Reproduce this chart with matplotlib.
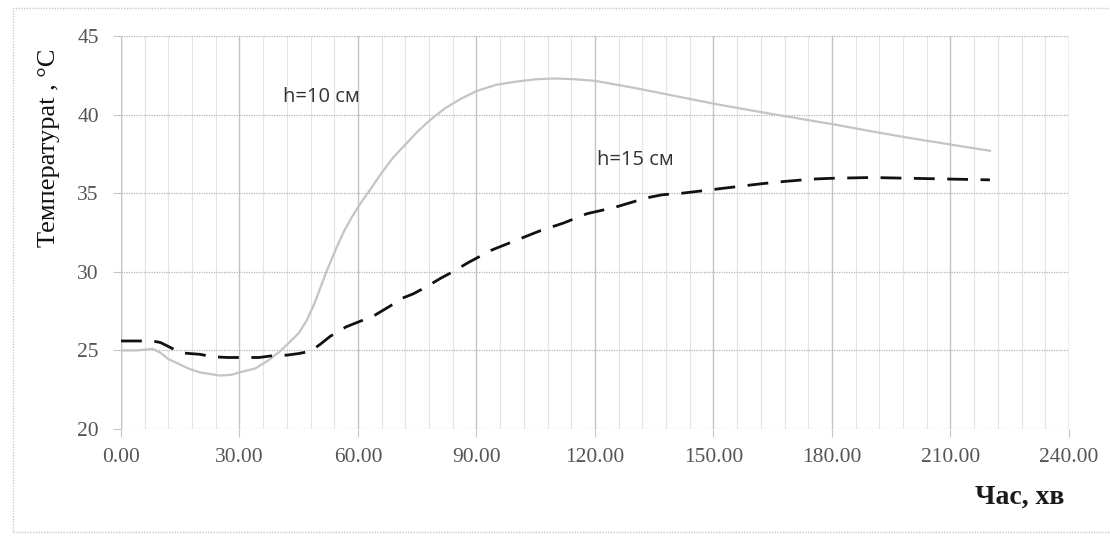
import matplotlib.pyplot as plt
from matplotlib.patches import Rectangle
from matplotlib.ticker import MultipleLocator

# h = 10 cm (grey solid)
t10 = [0, 4, 8, 10, 12, 15, 17, 20, 25, 28, 30, 34, 37.5, 40.5, 43, 45, 47, 49, 52,
       54.5, 56.5, 58.5, 60.5, 63, 66, 69, 72, 75, 78, 82, 86, 90, 95, 100, 105,
       110, 115, 120, 130, 140, 150, 160, 167, 180, 192, 200, 210, 220]
T10 = [25.0, 25.0, 25.1, 24.85, 24.45, 24.1, 23.85, 23.6, 23.4, 23.45, 23.6, 23.85,
       24.4, 25.0, 25.6, 26.1, 26.9, 28.0, 30.0, 31.5, 32.6, 33.5, 34.3, 35.2, 36.3, 37.3,
       38.1, 38.9, 39.6, 40.4, 41.0, 41.5, 41.9, 42.1, 42.25, 42.3, 42.25, 42.15,
       41.7, 41.2, 40.7, 40.25, 39.95, 39.4, 38.85, 38.5, 38.1, 37.7]

# h = 15 cm (black dashed)
t15 = [0, 4, 8, 10, 12.4, 15, 20, 23, 27, 30, 35, 38, 42, 45, 48, 50.5, 53, 57, 61,
       64, 68, 71, 74, 77, 81, 84, 88, 91, 94, 97, 101, 106, 112, 118, 125, 129, 133,
       137, 142, 147, 152, 157, 162, 168, 175, 180, 190, 200, 210, 220]
T15 = [25.6, 25.6, 25.6, 25.5, 25.2, 24.85, 24.75, 24.6, 24.55, 24.55, 24.55, 24.65,
       24.7, 24.8, 24.95, 25.4, 25.9, 26.5, 26.9, 27.2, 27.8, 28.3, 28.6, 29.0, 29.6,
       30.0, 30.6, 31.0, 31.4, 31.7, 32.1, 32.6, 33.1, 33.7, 34.1, 34.4, 34.7, 34.9,
       35.0, 35.15, 35.3, 35.45, 35.6, 35.75, 35.9, 35.95, 36.0, 35.95, 35.9, 35.85]

xticks = [0, 30, 60, 90, 120, 150, 180, 210, 240]
yticks = [20, 25, 30, 35, 40, 45]

fig = plt.figure(figsize=(11.1, 5.38), dpi=100)
ax = fig.add_axes([0.109, 0.2026, 0.854, 0.7304])

# outer chart frame
fig.patches.append(Rectangle((0.012, 0.011), 1.2, 0.974, transform=fig.transFigure,
                             fill=False, ec='#c8c8c8', lw=1.0, ls=(0, (1, 1))))

ax.plot(t10, T10, color='#c4c4c4', lw=1.6, zorder=3)
ax.plot(t15, T15, color='#111111', lw=2.0, dashes=(7.5, 4.5), zorder=4)

ax.set_xlim(0, 240)
ax.set_ylim(20, 45)
ax.set_xticks(xticks)
ax.set_xticklabels(['%.2f' % v for v in xticks])
ax.set_yticks(yticks)
ax.xaxis.set_minor_locator(MultipleLocator(6))

ax.grid(True, axis='y', which='major', color='#b4b4b4', lw=0.9, ls=(0, (1, 1)))
ax.grid(True, axis='x', which='major', color='#c4c4c4', lw=1.0)
ax.grid(True, axis='x', which='minor', color='#e4e4e4', lw=0.8)
for s in ['top', 'right', 'bottom', 'left']:
    ax.spines[s].set_visible(False)
ax.axvline(0, color='#c4c4c4', lw=1.0, zorder=1)
ax.axvline(240, color='#c4c4c4', lw=1.0, ls=(0, (1, 1)), zorder=1)

ax.tick_params(axis='both', which='major', length=6, color='#c4c4c4', labelcolor='#555555',
               labelsize=15.5)
ax.tick_params(axis='x', which='minor', length=0)
ax.tick_params(axis='x', pad=8)
ax.tick_params(axis='y', pad=10)
for lab in ax.get_xticklabels() + ax.get_yticklabels():
    lab.set_family('Liberation Serif')

fig.text(0.044, 0.725, 'Температураt , °C', rotation=90, ha='center', va='center',
         family='Liberation Serif', fontsize=19, color='#111111')
fig.text(0.919, 0.076, 'Час, хв', ha='center', va='center', family='Liberation Serif',
         fontsize=20, fontweight='bold', color='#1a1a1a')

ax.text(41, 41.1, 'h=10 см', family=['Open Sans', 'DejaVu Sans'], fontsize=14.5,
        color='#333333', va='center')
ax.text(120.5, 37.1, 'h=15 см', family=['Open Sans', 'DejaVu Sans'], fontsize=14.5,
        color='#333333', va='center')

fig.savefig('out.png', dpi=100)
